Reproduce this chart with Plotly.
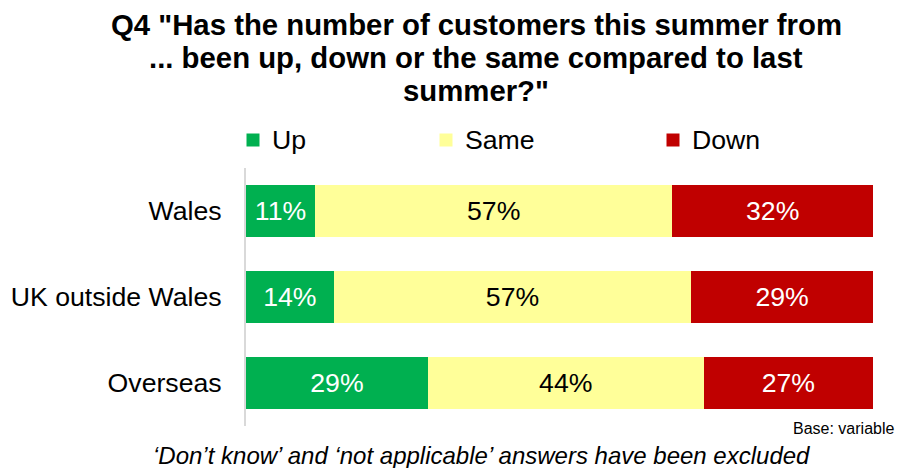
import plotly.graph_objects as go

regions = ["Wales", "UK outside Wales", "Overseas"]
up = [11, 14, 29]
same = [57, 57, 44]
down = [32, 29, 27]

series = [
    ("Up", up, "#00B050", "white"),
    ("Same", same, "#FFFF99", "black"),
    ("Down", down, "#C00000", "white"),
]

title_lines = [
    'Q4 "Has the number of customers this summer from',
    '... been up, down or the same compared to last',
    'summer?"',
]

FONT = "Liberation Sans, Arial, sans-serif"
BODY = 26.67   # 20pt
TITLE = 29.33  # 22pt

# plot area in pixels
L, R, T, B = 246, 24, 168, 42
W, H = 897, 468
PW, PH = W - L - R, H - T - B


def px_x(x):
    return (x - L) / PW


def px_y(y):
    return (H - B - y) / PH


fig = go.Figure()
for name, vals, color, tcolor in series:
    fig.add_trace(go.Bar(
        name=name,
        y=regions,
        x=vals,
        orientation="h",
        marker=dict(color=color, line=dict(width=0)),
        texttemplate="%{x}%",
        textposition="inside",
        insidetextanchor="middle",
        textfont=dict(color=tcolor, size=BODY, family=FONT),
        constraintext="none",
        showlegend=False,
    ))

fig.update_layout(
    width=W,
    height=H,
    barmode="stack",
    bargap=0.4,
    plot_bgcolor="white",
    paper_bgcolor="white",
    font=dict(family=FONT, color="black"),
    margin=dict(l=L, r=R, t=T, b=B),
    xaxis=dict(range=[0, 100], visible=False, fixedrange=True),
    yaxis=dict(
        categoryorder="array",
        categoryarray=regions[::-1],
        showline=True,
        linecolor="#D9D9D9",
        linewidth=2,
        showgrid=False,
        ticks="",
        ticklabelstandoff=17,
        tickfont=dict(size=BODY, family=FONT),
    ),
    showlegend=False,
)

# key row above the bars: colour swatch + series name
key_x = [253, 446, 673]
key_y = 140
SW = 6.5
for (name, _, color, _), cx in zip(series, key_x):
    fig.add_shape(
        type="rect",
        xref="paper", yref="paper",
        x0=px_x(cx - SW), x1=px_x(cx + SW),
        y0=px_y(key_y + SW), y1=px_y(key_y - SW),
        fillcolor=color, line=dict(width=0),
    )
    fig.add_annotation(
        text=name,
        xref="paper", yref="paper",
        x=px_x(cx + 17), y=px_y(key_y),
        xanchor="left", yanchor="middle",
        showarrow=False,
        font=dict(size=BODY, family=FONT),
    )

# three-line bold heading with tight line spacing
for i, line in enumerate(title_lines):
    fig.add_annotation(
        text=f"<b>{line}</b>",
        xref="paper", yref="paper",
        x=px_x(476), y=px_y(25 + 33 * i),
        xanchor="center", yanchor="middle",
        showarrow=False,
        font=dict(size=TITLE, family=FONT, color="black"),
    )

fig.add_annotation(
    text="Base: variable",
    xref="paper", yref="paper",
    x=px_x(896), y=px_y(428),
    xanchor="right", yanchor="middle",
    showarrow=False,
    font=dict(size=16, family=FONT),
)
fig.add_annotation(
    text="<i>\u2018Don\u2019t know\u2019 and \u2018not applicable\u2019 answers have been excluded</i>",
    xref="paper", yref="paper",
    x=px_x(481), y=px_y(455.5),
    xanchor="center", yanchor="middle",
    showarrow=False,
    font=dict(size=24, family=FONT),
)

fig.write_html("out.html")
